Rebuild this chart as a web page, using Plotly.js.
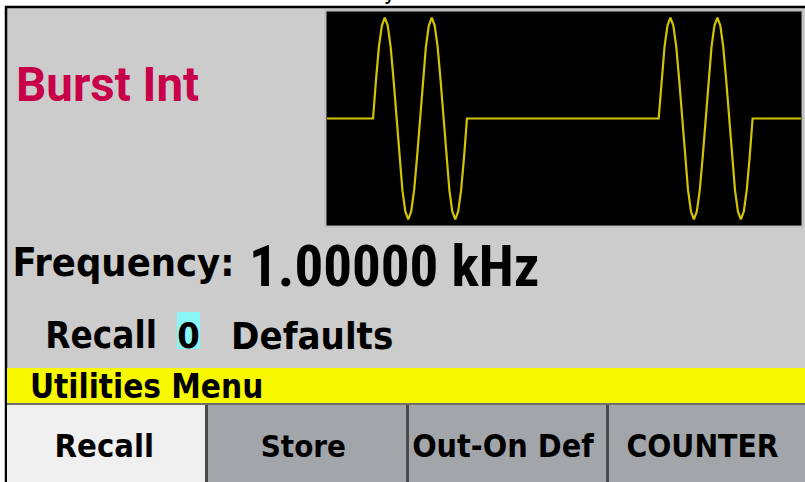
<!DOCTYPE html>
<html>
<head>
<meta charset="utf-8">
<script src="https://cdn.plot.ly/plotly-3.0.1.min.js"></script>
<style>
  html, body { margin: 0; padding: 0; background: #ffffff; }
  #chart { width: 805px; height: 482px; }
  #chart .annotation .annotation-text { font-stretch: condensed; }
  #chart .annotation[data-index="1"] .annotation-text { font-stretch: normal; }
</style>
</head>
<body>
<div id="chart"></div>
<script>
// ---- data ----
const modeLabel = "Burst Int";
const freqLabel = "Frequency:";
const freqValue = "1.00000 kHz";
const recallWords = ["Recall", "0", "Defaults"];
const menuTitle = "Utilities Menu";
const softKeys = ["Recall", "Store", "Out-On Def", "COUNTER"];

// one sine cycle, normalised samples (17 points)
const cycleShape = [0, 0.38, 0.71, 0.92, 1, 0.92, 0.71, 0.38, 0, -0.38, -0.71, -0.92, -1, -0.92, -0.71, -0.38, 0];
const burstStartsMs = [0.98, 7.06];   // burst start times (ms)
const cyclesPerBurst = 2;
const periodMs = 1.0;                 // 1 kHz carrier
const windowMs = [0, 10.09];          // visible time span

// ---- build the waveform trace from the arrays ----
const tx = [windowMs[0]], ty = [0];
burstStartsMs.forEach(s => {
  tx.push(s); ty.push(0);
  for (let c = 0; c < cyclesPerBurst; c++) {
    for (let k = 1; k < cycleShape.length; k++) {
      tx.push(s + c * periodMs + k * periodMs / (cycleShape.length - 1));
      ty.push(cycleShape[k]);
    }
  }
});
tx.push(windowMs[1]); ty.push(0);

// ---- layout helpers (pixel -> paper) ----
const W = 805, H = 482;
const PX = x => x / W;
const PY = y => 1 - y / H;
function rect(x0, y0, x1, y1, fill, line, lw) {
  return { type: 'rect', xref: 'paper', yref: 'paper', layer: 'below',
    x0: PX(x0), x1: PX(x1), y0: PY(y1), y1: PY(y0),
    fillcolor: fill, line: { color: line || fill, width: lw === undefined ? 0 : lw } };
}
const DV = "DejaVu Sans, sans-serif";
const RB = "Roboto, sans-serif";
function ann(text, cx, cy, size, family, color, weight, anchor) {
  return { text: text, xref: 'paper', yref: 'paper', x: PX(cx), y: PY(cy),
    xanchor: anchor || 'center', yanchor: 'middle', showarrow: false,
    borderpad: 0, borderwidth: 0,
    font: { family: family, size: size, color: color || '#000000', weight: weight || 'bold' } };
}

const shapes = [
  rect(6, 7, 812, 490, '#cccccc', '#000000', 2.5),        // screen panel + frame
  rect(325.5, 10.5, 802.5, 226.5, '#000000', '#bdbdbd', 2), // waveform window
  rect(7, 368, 805, 403, '#f8f800'),                       // menu bar
  rect(7, 403, 805, 405, '#6e6e6e'),
  rect(7, 405, 205, 482, '#f0f0f0'),
  rect(205, 405, 208, 482, '#4a4a4a'),
  rect(208, 405, 406, 482, '#a2a6aa'),
  rect(406, 405, 409, 482, '#4a4a4a'),
  rect(409, 405, 606, 482, '#a2a6aa'),
  rect(606, 405, 609, 482, '#4a4a4a'),
  rect(609, 405, 805, 482, '#a2a6aa'),
  rect(177, 312, 200, 349, '#88f6f6')                      // cursor highlight
];

const annotations = [
  ann('y', 390, 0, 24, DV, '#000000', 'normal'),
  ann(modeLabel, 107.5, 85, 47.5, RB, '#c8004a'),
  ann(freqLabel, 123, 261.5, 39.5, DV),
  ann(freqValue, 394.5, 266.5, 57, RB),
  ann(recallWords[0], 101, 335.5, 36.5, DV),
  ann(recallWords[1], 188.5, 335.5, 36, DV),
  ann(recallWords[2], 311.5, 335.5, 38, DV),
  ann(menuTitle, 146, 386, 33, DV),
  ann(softKeys[0], 104.5, 446, 32.5, DV),
  ann(softKeys[1], 303.5, 446, 31, DV),
  ann(softKeys[2], 503, 446, 32, DV),
  ann(softKeys[3], 702.5, 446, 31.5, DV)
];
// title descender sits partly above the visible area
annotations[0].yanchor = 'bottom';
annotations[0].y = 1;
annotations[0].yshift = -5;

const trace = {
  x: tx, y: ty, type: 'scatter', mode: 'lines',
  line: { color: '#d2c400', width: 2.2, shape: 'linear' },
  hoverinfo: 'skip'
};

const layout = {
  width: W, height: H,
  margin: { l: 0, r: 0, t: 0, b: 0, pad: 0 },
  paper_bgcolor: '#ffffff',
  plot_bgcolor: 'rgba(0,0,0,0)',
  showlegend: false,
  xaxis: { domain: [PX(327), PX(801)], range: windowMs, visible: false, fixedrange: true },
  yaxis: { domain: [PY(225), PY(12)], range: [-1.055, 1.055], visible: false, fixedrange: true },
  shapes: shapes,
  annotations: annotations
};

Plotly.newPlot('chart', [trace], layout, { staticPlot: true, displayModeBar: false });
</script>
</body>
</html>
